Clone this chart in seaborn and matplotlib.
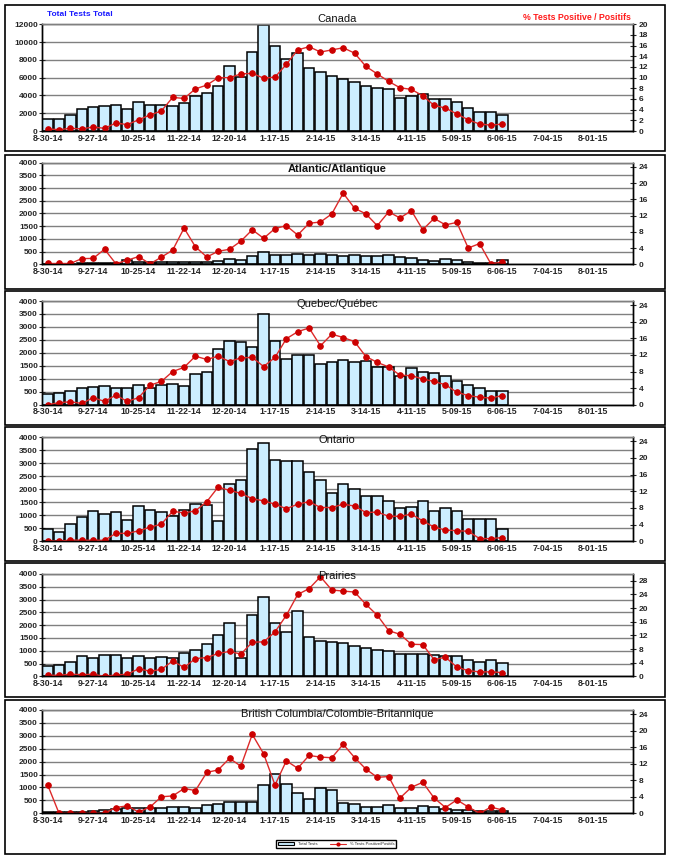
import numpy as np
import pandas as pd
import matplotlib
matplotlib.use("Agg")
import matplotlib.pyplot as plt
from matplotlib.patches import Rectangle, Patch
from matplotlib.lines import Line2D
import seaborn as sns

# week categories (52 weeks shown on the axis, data for the first 41)
week_names = list(pd.date_range("2014-08-30", periods=52, freq="7D").strftime("%m-%d-%y"))
tick_labels = ['8-30-14', '9-27-14', '10-25-14', '11-22-14', '12-20-14', '1-17-15', '2-14-15',
               '3-14-15', '4-11-15', '5-09-15', '6-06-15', '7-04-15', '8-01-15']

canada_tests = [1300, 1300, 1800, 2450, 2700, 2800, 2900, 2450, 3250, 2900, 2900, 2800, 3100, 3900,
                4250, 5050, 7300, 6050, 8900, 11900, 9550, 8100, 8750, 7100, 6650, 6200, 5900, 5460,
                5010, 4790, 4670, 3660, 3960, 4110, 3550, 3550, 3210, 2540, 2170, 2170, 1760]
canada_pct = [0.4, 0.25, 0.5, 0.4, 0.75, 0.5, 1.5, 1.2, 2.1, 3.0, 3.75, 6.3, 6.1, 7.9, 8.6, 10.0,
              10.0, 10.7, 10.8, 9.9, 10.1, 12.5, 15.2, 15.8, 14.8, 15.2, 15.6, 14.6, 12.1, 10.7,
              9.3, 8.1, 7.8, 6.6, 4.8, 4.3, 3.2, 2.1, 1.3, 1.1, 1.3]

atlantic_tests = [20, 30, 30, 50, 60, 60, 70, 170, 100, 90, 90, 90, 100, 100, 100, 140, 220, 180,
                  330, 500, 380, 380, 420, 350, 420, 380, 340, 380, 340, 340, 380, 290, 250, 180,
                  130, 220, 180, 100, 50, 40, 180]
atlantic_pct = [0.2, 0.2, 0.2, 1.4, 1.45, 3.7, 0.15, 1.0, 1.9, 0.1, 1.75, 3.5, 8.9, 4.3, 1.8, 3.2,
                3.7, 5.7, 8.5, 6.4, 8.8, 9.5, 7.2, 10.1, 10.4, 12.4, 17.5, 13.8, 12.4, 9.5, 12.9,
                11.4, 13.2, 8.5, 11.3, 9.7, 10.3, 4.0, 5.1, 0.1, 0.6]

quebec_tests = [400, 440, 515, 630, 670, 710, 630, 630, 745, 630, 745, 785, 710, 1170, 1250, 2160,
                2440, 2400, 2210, 3480, 2440, 1780, 1900, 1900, 1570, 1630, 1720, 1650, 1700, 1450,
                1450, 1120, 1410, 1260, 1220, 1120, 930, 760, 640, 530, 530]
quebec_pct = [0.0, 0.5, 0.7, 0.3, 1.7, 0.8, 2.3, 0.8, 1.7, 4.7, 5.6, 8.0, 9.0, 11.7, 10.9, 11.7,
              10.4, 11.3, 11.4, 9.2, 11.4, 15.9, 17.6, 18.5, 14.2, 17.0, 16.2, 15.2, 11.6, 10.2,
              9.1, 7.1, 7.0, 6.2, 5.6, 4.8, 3.0, 2.2, 1.8, 1.6, 2.2]

ontario_tests = [460, 345, 665, 920, 1150, 1035, 1110, 805, 1355, 1190, 1110, 970, 1190, 1420,
                 1380, 770, 2190, 2340, 3530, 3760, 3110, 3070, 3070, 2670, 2340, 1870, 2190, 1990,
                 1740, 1740, 1560, 1260, 1300, 1540, 1145, 1260, 1145, 840, 840, 870, 460]
ontario_pct = [0.15, 0.0, 0.3, 0.25, 0.25, 0.25, 1.9, 1.9, 2.5, 3.4, 4.1, 7.2, 6.8, 7.3, 9.5, 13.0,
               12.2, 11.5, 10.2, 9.7, 8.9, 7.8, 8.9, 9.5, 8.1, 8.1, 8.9, 8.45, 6.9, 7.0, 6.0, 6.0,
               6.5, 4.9, 3.4, 2.7, 2.55, 2.4, 0.65, 0.65, 0.9]

prairies_tests = [390, 430, 545, 780, 700, 820, 820, 700, 780, 700, 740, 700, 900, 1015, 1250,
                  1600, 2070, 700, 2385, 3090, 2070, 1720, 2540, 1525, 1370, 1325, 1320, 1200, 1120,
                  1045, 1005, 890, 890, 890, 850, 810, 785, 655, 575, 625, 535]
prairies_pct = [0.3, 0.3, 0.6, 0.5, 0.6, 0.0, 0.4, 0.6, 2.2, 1.5, 2.0, 4.5, 2.6, 5.2, 5.5, 6.7,
                7.3, 6.5, 10.0, 10.1, 13.0, 17.9, 24.0, 25.7, 29.2, 25.3, 25.0, 24.7, 21.1, 17.9,
                13.4, 12.3, 9.4, 9.3, 4.9, 5.6, 2.7, 1.65, 1.3, 1.3, 1.1]

bc_tests = [40, 40, 65, 65, 100, 140, 180, 190, 220, 220, 190, 230, 230, 190, 310, 350, 425, 425,
            425, 1085, 1510, 1120, 775, 540, 970, 890, 390, 350, 230, 230, 310, 190, 190, 270, 230,
            180, 140, 140, 100, 100, 100]
bc_pct = [6.85, 0.0, 0.0, 0.0, 0.0, 0.0, 1.4, 1.8, 0.3, 1.5, 4.0, 4.2, 6.0, 5.5, 9.9, 10.5, 13.3,
          11.4, 19.1, 14.4, 6.85, 12.7, 10.9, 14.0, 13.6, 13.45, 16.7, 13.5, 10.7, 8.7, 8.9, 3.7,
          6.3, 7.5, 3.7, 1.4, 3.25, 1.55, 0.0, 1.5, 0.8]

W, H = 673, 859
BAR_COLOR = '#cceeff'
LINE_COLOR = '#dd2a2a'
MARK_COLOR = '#cc0000'

sns.set_style("white")
plt.rcParams['font.family'] = ['Liberation Sans', 'DejaVu Sans']

fig = plt.figure(figsize=(W / 100, H / 100), dpi=100)


def px_box(left, top, right, bottom):
    # convert pixel box to figure fraction [l, b, w, h]
    return [left / W, 1 - bottom / H, (right - left) / W, (bottom - top) / H]


def panel(top, bottom, tests, pct, ymax, ystep, rmax, rticks):
    ax = fig.add_axes(px_box(42, top, 633, bottom))
    df = pd.DataFrame({'week': week_names[:len(tests)], 'tests': tests})
    sns.barplot(data=df, x='week', y='tests', order=week_names, ax=ax, color=BAR_COLOR,
                saturation=1, width=0.92, edgecolor='black', linewidth=1.1, errorbar=None)

    # left axis
    ax.set_ylim(0, ymax)
    ax.set_yticks(np.arange(0, ymax + 1, ystep))
    ax.yaxis.grid(True, color='#808080', linewidth=1)
    ax.set_axisbelow(True)
    ax.set_xlabel('')
    ax.set_ylabel('')
    ax.tick_params(axis='y', labelsize=6, direction='inout', length=4, width=0.8, pad=1)
    for lab in ax.get_yticklabels():
        lab.set_fontweight('bold')

    # secondary axis with the % positive line
    ax2 = ax.twinx()
    dl = pd.DataFrame({'i': np.arange(len(pct)), 'pct': pct})
    sns.lineplot(data=dl, x='i', y='pct', ax=ax2, color=LINE_COLOR, linewidth=1,
                 marker='o', markersize=4, markerfacecolor=MARK_COLOR, markeredgecolor=MARK_COLOR)
    ax2.set_ylim(0, rmax)
    ax2.set_yticks(rticks)
    ax2.set_ylabel('')
    ax2.tick_params(axis='y', labelsize=6, direction='inout', length=4, width=0.8, pad=2)
    for lab in ax2.get_yticklabels():
        lab.set_fontweight('bold')

    # category axis: labels every 4 weeks, marks between categories
    ax.set_xlim(-0.5, len(week_names) - 0.5)
    ax.set_xticks(range(0, 49, 4))
    ax.set_xticklabels(tick_labels, fontsize=6.3, fontweight='bold')
    ax.set_xticks(np.arange(-0.5, len(week_names), 1), minor=True)
    ax.tick_params(axis='x', which='major', length=0, pad=2)
    ax.tick_params(axis='x', which='minor', length=4, width=0.8, direction='out')

    for a in (ax, ax2):
        a.spines['top'].set_color('#808080')
        a.spines['left'].set_color('black')
        a.spines['right'].set_color('black')
        a.spines['bottom'].set_color('black')
        for s in a.spines.values():
            s.set_linewidth(1)
    return ax


def frame(top, bottom):
    fig.patches.append(Rectangle((5 / W, 1 - bottom / H), 660 / W, (bottom - top) / H,
                                 transform=fig.transFigure, fill=False, ec='black', lw=1.2))


def title(text, y, bold=False):
    fig.text(337 / W, 1 - y / H, text, ha='center', va='center', fontsize=8,
             fontweight='bold' if bold else 'normal', color='#111111')


ticks24 = [0, 4, 8, 12, 16, 20, 24]

frame(5, 151)
panel(24.3, 131, canada_tests, canada_pct, 12000, 2000, 20, list(range(0, 21, 2)))
title('Canada', 19)
fig.text(47 / W, 1 - 15 / H, 'Total Tests Total', ha='left', va='center', fontsize=6,
         fontweight='bold', color='#1a1aff')
fig.text(631 / W, 1 - 17 / H, '% Tests Positive / Positifs', ha='right', va='center',
         fontsize=6.3, fontweight='bold', color='#ff1a1a')

frame(155, 289)
panel(162.7, 264.3, atlantic_tests, atlantic_pct, 4000, 500, 25, ticks24)
title('Atlantic/Atlantique', 169, bold=True)

frame(291, 425)
panel(301, 404.7, quebec_tests, quebec_pct, 4000, 500, 25, ticks24)
title('Quebec/Québec', 304)

frame(427, 561)
panel(437, 541.3, ontario_tests, ontario_pct, 4000, 500, 25, ticks24)
title('Ontario', 440)

frame(563, 697)
panel(574, 676.3, prairies_tests, prairies_pct, 4000, 500, 30, [0, 4, 8, 12, 16, 20, 24, 28])
title('Prairies', 576)

frame(700, 854)
panel(710, 813.3, bc_tests, bc_pct, 4000, 500, 25, ticks24)
title('British Columbia/Colombie-Britannique', 714)

# small legend at the bottom
handles = [Patch(facecolor=BAR_COLOR, edgecolor='black', linewidth=0.8),
           Line2D([0], [0], color=LINE_COLOR, marker='o', markersize=2,
                  markerfacecolor=MARK_COLOR, markeredgecolor=MARK_COLOR, linewidth=0.8)]
fig.legend(handles, ['Total Tests', '% Tests Positive/Positifs'], loc='center',
           bbox_to_anchor=(336 / W, 1 - 844 / H), ncol=2, fontsize=3, frameon=True,
           fancybox=False, edgecolor='black', handlelength=4, handleheight=0.6,
           borderpad=0.4, columnspacing=3, framealpha=1)

fig.savefig('out.png', dpi=100)
